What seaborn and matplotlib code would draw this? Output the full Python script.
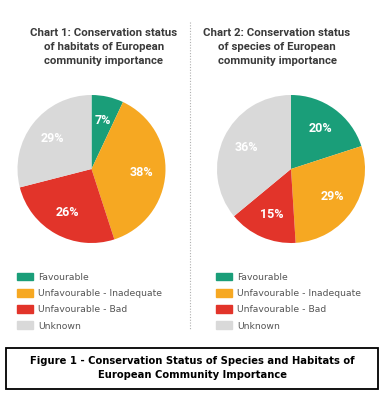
import matplotlib
matplotlib.use("Agg")
import matplotlib.pyplot as plt
import matplotlib.patches as mpatches
from matplotlib.lines import Line2D
import seaborn as sns

# Data
categories = ["Favourable", "Unfavourable - Inadequate", "Unfavourable - Bad", "Unknown"]
habitats = [7, 38, 26, 29]
species = [20, 29, 15, 36]
titles = [
    "Chart 1: Conservation status\nof habitats of European\ncommunity importance",
    "Chart 2: Conservation status\nof species of European\ncommunity importance",
]
caption = "Figure 1 - Conservation Status of Species and Habitats of\nEuropean Community Importance"

sns.set_theme(style="white")
colors = sns.color_palette(["#1a9e79", "#f6a822", "#e2342a", "#d9d9d9"])
narrow = ["Roboto", "DejaVu Sans"]

W, H = 388, 413
fig = plt.figure(figsize=(W / 100, H / 100), dpi=100)
fig.patch.set_facecolor("white")


def px_axes(x0, y0, w, h):
    # axes from pixel box (top-left origin)
    return fig.add_axes([x0 / W, 1 - (y0 + h) / H, w / W, h / H])


centers = [91.5, 291]
for i, vals in enumerate([habitats, species]):
    r = 74
    ax = px_axes(centers[i] - r, 169 - r, 2 * r, 2 * r)
    wedges, texts, autotexts = ax.pie(
        vals, colors=colors, startangle=90, counterclock=False,
        autopct="%d%%", pctdistance=0.67,
        wedgeprops=dict(linewidth=0),
        textprops=dict(color="white", fontsize=9, fontweight="bold", family=narrow),
    )
    ax.set_aspect("equal")
    ax.set_xlim(-1, 1)
    ax.set_ylim(-1, 1)
    ax.axis("off")

    # title
    fig.text([104, 277][i] / W, 1 - 47 / H, titles[i], ha="center", va="center",
             fontsize=8.2, fontweight="bold", color="#3a3a3a", family=narrow,
             linespacing=1.5)

    # legend
    handles = [mpatches.Patch(color=c, label=l) for c, l in zip(colors, categories)]
    fig.legend(handles=handles, loc="upper left",
               bbox_to_anchor=([17, 216][i] / W, 1 - 272.5 / H),
               frameon=False, fontsize=6.7, labelcolor="#555555",
               handlelength=1.75, handleheight=0.9, handletextpad=0.55,
               labelspacing=0.78, borderaxespad=0, borderpad=0)

# dotted divider
fig.add_artist(Line2D([190 / W, 190 / W], [1 - 22 / H, 1 - 330 / H],
                      transform=fig.transFigure, color="#b0b0b0",
                      linestyle=(0, (1, 1.5)), linewidth=0.8))

# caption box
fig.add_artist(mpatches.Rectangle((6 / W, 1 - 389 / H), 372 / W, 41 / H,
                                  transform=fig.transFigure, fill=False,
                                  edgecolor="black", linewidth=1.3))
fig.text(192 / W, 1 - 367.5 / H, caption, ha="center", va="center",
         fontsize=7.2, fontweight="bold", color="black", linespacing=1.5)

fig.savefig("out.png", dpi=100, facecolor="white")
